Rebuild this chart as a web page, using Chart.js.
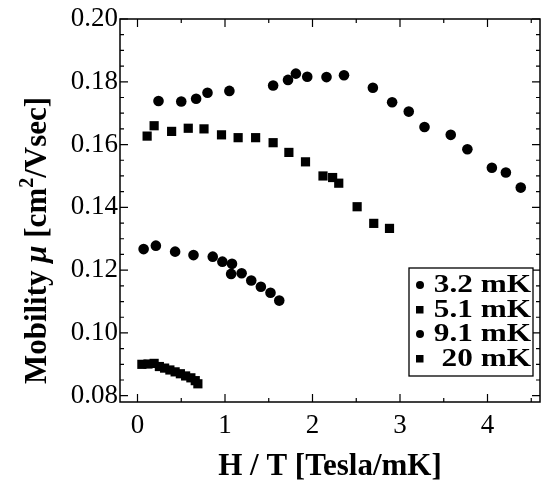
<!DOCTYPE html>
<html><head><meta charset="utf-8">
<script src="https://cdn.jsdelivr.net/npm/chart.js@4"></script>
<style>html,body{margin:0;padding:0;background:#fff}</style>
</head><body>
<canvas id="c" width="548" height="490"></canvas>
<script>
// ---- data ----
const seriesNames = ['3.2 mK', '5.1 mK', '9.1 mK', '20 mK'];
const x32 = [0.24, 0.50, 0.67, 0.80, 1.05, 1.55, 1.72, 1.81, 1.94, 2.16, 2.36, 2.69, 2.91, 3.10, 3.28, 3.58, 3.77, 4.05, 4.21, 4.38];
const y32 = [0.1739, 0.1737, 0.1746, 0.1765, 0.1771, 0.1788, 0.1806, 0.1826, 0.1816, 0.1815, 0.1821, 0.1781, 0.1735, 0.1705, 0.1656, 0.1631, 0.1585, 0.1526, 0.1511, 0.1463];
const x51 = [0.11, 0.19, 0.39, 0.58, 0.76, 0.96, 1.15, 1.35, 1.55, 1.73, 1.92, 2.12, 2.23, 2.30, 2.51, 2.70, 2.88];
const y51 = [0.1627, 0.1660, 0.1642, 0.1652, 0.1650, 0.1631, 0.1622, 0.1622, 0.1606, 0.1575, 0.1545, 0.1500, 0.1495, 0.1477, 0.1402, 0.1349, 0.1333];
const x91 = [0.07, 0.21, 0.43, 0.64, 0.86, 0.97, 1.08, 1.07, 1.19, 1.30, 1.41, 1.52, 1.62];
const y91 = [0.1267, 0.1278, 0.1259, 0.1248, 0.1243, 0.1227, 0.1220, 0.1188, 0.1190, 0.1167, 0.1147, 0.1128, 0.1103];
const x20 = [0.05, 0.12, 0.19, 0.25, 0.31, 0.37, 0.43, 0.49, 0.55, 0.61, 0.66, 0.69];
const y20 = [0.0900, 0.0901, 0.0903, 0.0893, 0.0888, 0.0882, 0.0876, 0.0870, 0.0863, 0.0857, 0.0848, 0.0838];
const xTickValues = [0, 1, 2, 3, 4];
const yTickValues = [0.08, 0.10, 0.12, 0.14, 0.16, 0.18, 0.20];
const xMinorValues = [0.5, 1.5, 2.5, 3.5, 4.5];
const yMinorPerMajor = 3;

const SERIF = '"Liberation Serif", "Times New Roman", serif';
const pts = (xs, ys) => xs.map((x, i) => ({ x: x, y: ys[i] }));
const styles = ['circle', 'rect', 'circle', 'rect'];
const radii = [5.3, 6.5, 5.3, 6.5];
const allX = [x32, x51, x91, x20], allY = [y32, y51, y91, y20];

const datasets = seriesNames.map((n, i) => ({
  label: n, data: pts(allX[i], allY[i]), showLine: false,
  pointStyle: styles[i], pointRadius: radii[i], pointHoverRadius: radii[i],
  backgroundColor: '#000', borderColor: '#000', borderWidth: 0
}));

const frameTicks = {
  id: 'frameTicks',
  afterDatasetsDraw(chart) {
    const ctx = chart.ctx, a = chart.chartArea;
    const xs = chart.scales.x, ys = chart.scales.y;
    ctx.save();
    ctx.strokeStyle = '#000'; ctx.lineWidth = 1.5;
    ctx.strokeRect(a.left, a.top, a.right - a.left, a.bottom - a.top);
    ctx.lineWidth = 1.2;
    const tx = (v, L) => { const p = xs.getPixelForValue(v);
      ctx.beginPath(); ctx.moveTo(p, a.bottom); ctx.lineTo(p, a.bottom - L);
      ctx.moveTo(p, a.top); ctx.lineTo(p, a.top + L); ctx.stroke(); };
    const ty = (v, L) => { const p = ys.getPixelForValue(v);
      ctx.beginPath(); ctx.moveTo(a.left, p); ctx.lineTo(a.left + L, p);
      ctx.moveTo(a.right, p); ctx.lineTo(a.right - L, p); ctx.stroke(); };
    xTickValues.forEach(v => tx(v, 8));
    xMinorValues.forEach(v => tx(v, 4));
    yTickValues.forEach(v => ty(v, 8));
    for (let i = 0; i < yTickValues.length - 1; i++) {
      const lo = yTickValues[i], hi = yTickValues[i + 1];
      for (let k = 1; k <= yMinorPerMajor; k++) ty(lo + (hi - lo) * k / (yMinorPerMajor + 1), 4);
    }
    ctx.restore();
  }
};

const yTitle = {
  id: 'yTitle',
  afterDraw(chart) {
    const ctx = chart.ctx, a = chart.chartArea;
    const big = 'bold 31px ' + SERIF, ital = 'italic bold 31px ' + SERIF, sup = 'bold 20px ' + SERIF;
    const parts = [
      { t: 'Mobility ', f: big, dy: 0 }, { t: 'μ', f: ital, dy: 0 }, { t: ' [cm', f: big, dy: 0 },
      { t: '2', f: sup, dy: -13 }, { t: '/Vsec]', f: big, dy: 0 }
    ];
    ctx.save();
    ctx.fillStyle = '#000'; ctx.textBaseline = 'alphabetic'; ctx.textAlign = 'left';
    let total = 0;
    parts.forEach(p => { ctx.font = p.f; p.w = ctx.measureText(p.t).width; total += p.w; });
    ctx.translate(46, (a.top + a.bottom) / 2 + 30);
    ctx.rotate(-Math.PI / 2);
    let x = -total / 2;
    parts.forEach(p => { ctx.font = p.f; ctx.fillText(p.t, x, p.dy); x += p.w; });
    ctx.restore();
  }
};

const legendBox = {
  id: 'legendBox',
  afterDraw(chart) {
    const ctx = chart.ctx;
    const L = 409, T = 268, R = 533, B = 376;
    ctx.save();
    ctx.fillStyle = '#fff'; ctx.fillRect(L, T, R - L, B - T);
    ctx.strokeStyle = '#000'; ctx.lineWidth = 1.3; ctx.strokeRect(L, T, R - L, B - T);
    ctx.fillStyle = '#000'; ctx.textBaseline = 'middle';
    chart.data.datasets.forEach((d, i) => {
      const y = 285 + i * 24.5;
      if (d.pointStyle === 'circle') { ctx.beginPath(); ctx.arc(420, y, 4, 0, Math.PI * 2); ctx.fill(); }
      else { ctx.fillRect(416, y - 3.5, 7.5, 7.5); }
      ctx.save();
      ctx.translate(531, y + 1);
      ctx.scale(1.25, 1);
      ctx.font = 'bold 25px ' + SERIF; ctx.textAlign = 'right';
      ctx.fillText(d.label, 0, 0);
      ctx.restore();
    });
    ctx.restore();
  }
};

new Chart(document.getElementById('c'), {
  type: 'scatter',
  data: { datasets: datasets },
  options: {
    responsive: false, animation: false, devicePixelRatio: 1,
    layout: { padding: { top: 19, right: 8, left: 0, bottom: 0 } },
    plugins: { legend: { display: false }, tooltip: { enabled: false } },
    scales: {
      x: {
        type: 'linear', min: -0.2, max: 4.6,
        afterBuildTicks: s => { s.ticks = xTickValues.map(v => ({ value: v })); },
        afterFit: s => { s.height = 88; },
        grid: { display: false, drawTicks: false },
        border: { display: false },
        ticks: { color: '#000', font: { family: SERIF, size: 27 }, padding: 8, maxRotation: 0,
                 callback: v => String(v) },
        title: { display: true, text: 'H / T [Tesla/mK]', color: '#000',
                 font: { family: SERIF, size: 31, weight: 'bold' }, padding: { top: 6 } }
      },
      y: {
        type: 'linear', min: 0.078, max: 0.20,
        afterBuildTicks: s => { s.ticks = yTickValues.map(v => ({ value: v })); },
        afterFit: s => { s.width = 120; },
        grid: { display: false, drawTicks: false },
        border: { display: false },
        ticks: { color: '#000', font: { family: SERIF, size: 27 }, padding: 2,
                 callback: v => Number(v).toFixed(2) }
      }
    }
  },
  plugins: [frameTicks, yTitle, legendBox]
});
</script>
</body></html>
